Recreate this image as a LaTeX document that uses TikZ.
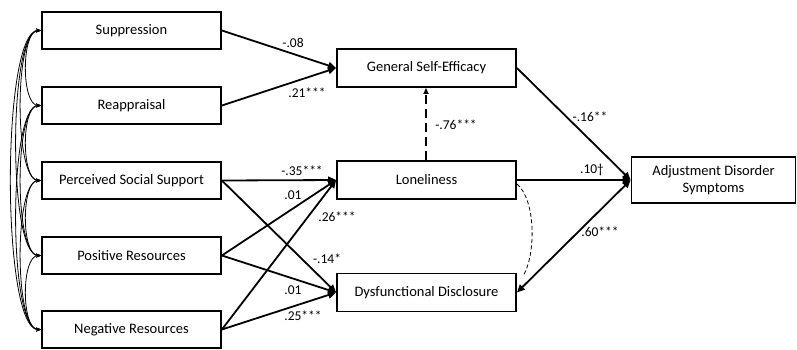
\documentclass[tikz,border=0pt]{standalone}
\usepackage{fontspec}
\setmainfont{Carlito}
\usetikzlibrary{arrows.meta}
\begin{document}
\begin{tikzpicture}[x=1pt,y=-1pt,
  box/.style={draw,line width=1.8pt,inner sep=0pt,align=center,font=\fontsize{14.5}{16.5}\selectfont},
  lbox/.style={box,minimum width=179pt,minimum height=37pt},
  arr/.style={line width=1.8pt,-{Triangle[length=8pt,width=7pt]}},
  cov/.style={line width=0.8pt,{Stealth[length=5pt,width=4pt]}-{Stealth[length=5pt,width=4pt]}},
  lab/.style={font=\fontsize{13.5}{15}\selectfont,inner sep=0pt}]
\useasboundingbox (0,0) rectangle (797,349);
\node[lbox] (sup) at (131.5,30.5) {Suppression};
\node[lbox] (rea) at (131.5,105.5) {Reappraisal};
\node[lbox] (pss) at (131.5,180.5) {Perceived Social Support};
\node[lbox] (pos) at (131.5,255.5) {Positive Resources};
\node[lbox] (neg) at (131.5,329.5) {Negative Resources};
\node[lbox,minimum height=38pt] (gse) at (426.5,68) {General Self-Efficacy};
\node[lbox,minimum height=38pt] (lon) at (426.5,180) {Loneliness};
\node[lbox,minimum height=38pt] (dd) at (426.5,292.5) {Dysfunctional Disclosure};
\node[box,minimum width=164pt,minimum height=46pt] (ads) at (713.5,180) {Adjustment Disorder\\Symptoms};
% covariances
\foreach \a/\b/\c in {sup/rea/20,rea/pss/20,pss/pos/20,pos/neg/20,
  sup/pss/27,rea/pos/27,pss/neg/27,sup/pos/33,rea/neg/33,sup/neg/40}{
  \draw[cov] (\a.west) .. controls ([xshift=-\c pt]\a.west) and ([xshift=-\c pt]\b.west) .. (\b.west);
}
% paths
\draw[arr] (sup.east) -- (gse.west);
\draw[arr] (rea.east) -- (gse.west);
\draw[arr] (pss.east) -- (lon.west);
\draw[arr] (pss.east) -- (dd.west);
\draw[arr] (pos.east) -- (lon.west);
\draw[arr] (pos.east) -- (dd.west);
\draw[arr] (neg.east) -- (lon.west);
\draw[arr] (neg.east) -- (dd.west);
\draw[arr,line width=2.6pt,dash pattern=on 9pt off 5pt,-{Triangle[length=6pt,width=5pt]}] ([xshift=-0.5pt]lon.north) -- ([xshift=-0.5pt]gse.south);
\draw[arr] (gse.east) -- (ads.west);
\draw[arr] (lon.east) -- (ads.west);
\draw[arr,{Triangle[length=8pt,width=7pt]}-{Triangle[length=8pt,width=7pt]}] (dd.east) -- (ads.west);
\coordinate (c1) at (517,184);
\coordinate (c2) at (523,276);
\draw[line width=0.8pt,dash pattern=on 4pt off 2.5pt] (c1) .. controls (536,200) and (536,255) .. (c2);
% labels
\node[lab] (l1) at (293,43) {-.08};
\node[lab] (l2) at (307,93) {.21***};
\node[lab] (l3) at (302,171) {-.35***};
\node[lab] (l4) at (293,195) {.01};
\node[lab] (l5) at (337,217) {.26***};
\node[lab] (l6) at (327,259) {-.14*};
\node[lab] (l7) at (293,290) {.01};
\node[lab] (l8) at (303,316) {.25***};
\node[lab] (l9) at (456,125) {-.76***};
\node[lab] (l10) at (590,117) {-.16**};
\node[lab] (l11) at (592,170) {.10†};
\node[lab] (l12) at (600,232) {.60***};
\end{tikzpicture}
\end{document}
